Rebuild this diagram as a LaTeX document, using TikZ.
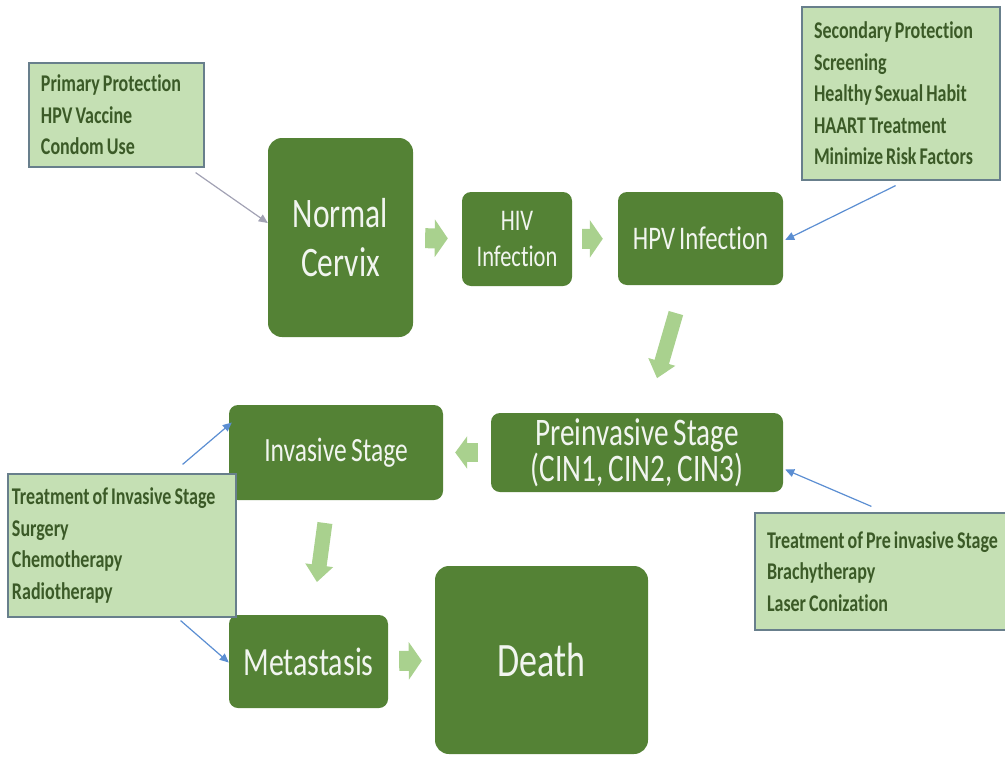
\documentclass[tikz,border=0pt]{standalone}
\usepackage{fontspec}
\setmainfont{Carlito}[FakeStretch=0.75, WordSpace=0.75, Ligatures=NoCommon]
\usepackage{tikz}
\usetikzlibrary{arrows.meta}

\definecolor{stagegreen}{HTML}{548235}
\definecolor{notegreen}{HTML}{C5E0B4}
\definecolor{flowgreen}{HTML}{A9D18E}
\definecolor{notetext}{HTML}{3B5A27}
\definecolor{noteline}{HTML}{687F8C}
\definecolor{linkblue}{HTML}{5B8ED2}
\definecolor{linkgray}{HTML}{A2A2B4}

\begin{document}
\begin{tikzpicture}[x=1pt, y=-1pt,
	stage/.style={rectangle, rounded corners=9pt, fill=stagegreen, text=white!92!stagegreen, align=center, inner sep=0pt},
	note/.style={rectangle, draw=noteline, line width=1.2pt, fill=notegreen, text=notetext, align=flush left, inner xsep=12pt, font=\bfseries\fontsize{24}{31.5}\selectfont},
	flow/.style={draw=flowgreen, line width=20pt, -{Triangle[width=37pt,length=13pt]}},
	downflow/.style={draw=flowgreen, line width=15pt, -{Triangle[width=27pt,length=17pt]}},
	link/.style={draw=linkblue, line width=1.2pt, -{Triangle[width=8pt,length=9pt]}}]
			\useasboundingbox (0,0) rectangle (1005,761);
			
			\node[note, text width=151pt, minimum height=104pt] (prim) at (116.5,115){Primary Protection\\HPV Vaccine\\Condom Use};
			\node[stage, rounded corners=14pt, minimum width=145pt, minimum height=199pt, font=\fontsize{42}{49}\selectfont] (normal) at (340.5,237.5){Normal\\Cervix};
			\node[stage, minimum width=110pt, minimum height=94pt, font=\fontsize{30}{36}\selectfont] (hiv) at (517,239){HIV\\Infection};
			\node[stage, minimum width=165pt, minimum height=93pt, font=\fontsize{33}{40}\selectfont] (hpv) at (700.5,238.5){HPV Infection};
			\node[note, text width=174pt, minimum height=173pt] (sec) at (901,93.5){Secondary Protection\\Screening\\Healthy Sexual Habit\\HAART Treatment\\Minimize Risk Factors};
			
			\node[stage, minimum width=292pt, minimum height=79pt, font=\fontsize{39}{36}\selectfont] (pre) at (637,452.5){Preinvasive Stage\\(CIN1, CIN2, CIN3)};
			\node[stage, minimum width=214pt, minimum height=95pt, font=\fontsize{34}{40}\selectfont] (inv) at (336,452.5){Invasive Stage};
			\node[stage, minimum width=159pt, minimum height=93pt, font=\fontsize{40}{48}\selectfont] (met) at (308.5,661.5){Metastasis};
			\node[stage, rounded corners=14pt, minimum width=213pt, minimum height=188pt, font=\fontsize{48}{56}\selectfont] (death) at (541.5,660){Death};
			
			\node[note, inner xsep=4pt, text width=220pt, minimum height=143pt] (tinv) at (122,545.5){Treatment of Invasive Stage\\Surgery\\Chemotherapy\\Radiotherapy};
			\node[note, text width=241pt, minimum height=117pt] (tpre) at (887.5,571.5){Treatment of Pre invasive Stage\\Brachytherapy\\Laser Conization};
			
			\path (normal) edge[flow, shorten <=12pt, shorten >=14pt] (hiv);
			\path (hiv) edge[flow, shorten <=10pt, shorten >=15pt] (hpv);
			\path ([shift={(-16.5,0)}]hpv.south) edge[downflow, shorten <=29pt, shorten >=36pt] ([shift={(10,0)}]pre.north);
			\path (pre) edge[flow, line width=19pt, -{Triangle[width=32pt,length=12pt]}, shorten <=13pt, shorten >=12pt] (inv);
			\path ([shift={(-8,0)}]inv.south) edge[downflow, shorten <=23pt, shorten >=33pt] ([shift={(4,0)}]met.north);
			\path (met) edge[flow, shorten <=11pt, shorten >=13pt] (death);
			
			\path ([shift={(-9,5)}]prim.south east) edge[link, draw=linkgray] ([shift={(0,-14.5)}]normal.west);
			\path ([shift={(-105,5)}]sec.south east) edge[link] ([shift={(2,1.5)}]hpv.east);
			\path ([shift={(117,-6)}]tpre.north west) edge[link] ([shift={(2,17)}]pre.east);
			\path ([shift={(-54,-9)}]tinv.north east) edge[link] ([shift={(3,-30)}]inv.west);
			\path ([shift={(-56,3)}]tinv.south east) edge[link] ([shift={(0,1)}]met.west);
			\end{tikzpicture}
\end{document}
